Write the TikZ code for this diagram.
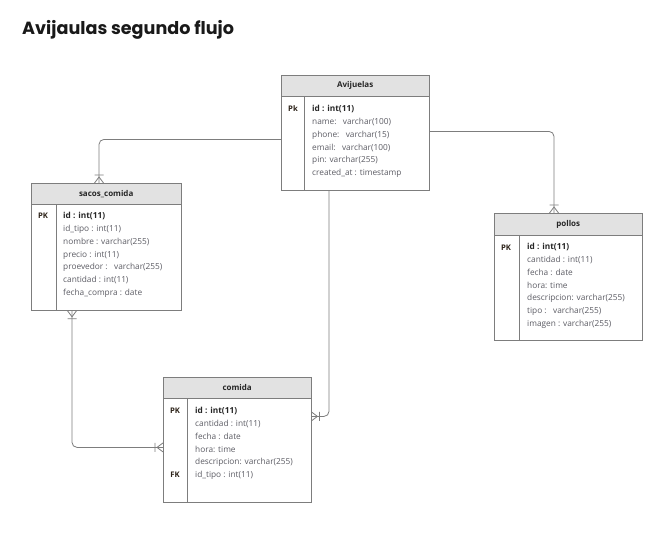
\documentclass[tikz,border=0pt]{standalone}
\usepackage{fontspec}
\setmainfont{Open Sans}
\newfontfamily\titlefont{Poppins}
\usetikzlibrary{arrows.meta,positioning,calc,decorations.markings}
\definecolor{linegray}{RGB}{125,125,125}
\definecolor{headgray}{RGB}{226,226,226}
\definecolor{fieldgray}{RGB}{92,92,100}
\definecolor{keydark}{RGB}{45,35,25}
\tikzset{
  tabhead/.style={rectangle,draw=linegray,fill=headgray,minimum height=21pt,inner sep=0pt,
    font=\fontsize{8}{9}\selectfont\bfseries,text=black!85},
  tabbody/.style={rectangle,draw=linegray,fill=white,inner sep=0pt},
  keycol/.style={anchor=base,inner sep=0pt,font=\fontsize{7.7}{9}\selectfont\bfseries,text=keydark},
  fieldcol/.style={anchor=north west,align=left,inner sep=0pt,
    font=\fontsize{8.3}{12.7}\selectfont,text=fieldgray},
  rel/.style={draw=linegray,line width=0.8pt,rounded corners=5pt},
  crowend/.style={postaction={decorate,decoration={markings,mark=at position 1 with
    {\draw[linegray,line width=0.8pt,sharp corners] (0,4.5pt) -- (-6pt,0) -- (0,-4.5pt)
      (-8pt,4.5pt) -- (-8pt,-4.5pt);}}}},
  crowstart/.style={postaction={decorate,decoration={markings,mark=at position 0 with
    {\draw[linegray,line width=0.8pt,sharp corners] (0,4.5pt) -- (6pt,0) -- (0,-4.5pt)
      (8pt,4.5pt) -- (8pt,-4.5pt);}}}}
}
\newcommand{\idrow}{\textcolor{black!85}{\textbf{id : int(11)}}}

\begin{document}
\begin{tikzpicture}[x=1pt,y=-1pt]
  \useasboundingbox[fill=white] (0,0) rectangle (660,532);
  \node[anchor=base west,inner sep=0pt,text=black!90,
        font=\titlefont\fontsize{17.6}{20}\selectfont\bfseries] (title) at (22,35) {Avijaulas segundo flujo};

  %% Avijuelas
  \node[tabhead,minimum width=148pt,anchor=north west] (avijH) at (281,75) {Avijuelas};
  \node[tabbody,minimum width=148pt,minimum height=94pt,below=0pt of avijH] (avijB) {};
  \draw[linegray] ([xshift=23pt]avijB.north west) -- ([xshift=23pt]avijB.south west);
  \node[keycol] (avijK) at ([xshift=12pt,yshift=-15pt]avijB.north west) {Pk};
  \node[fieldcol] (avijF) at ([xshift=31pt,yshift=-9pt]avijB.north west)
    {\idrow\\ name:\ \ \ varchar(100)\\ phone:\ \ \ varchar(15)\\ email:\ \ \ varchar(100)\\
     pin: varchar(255)\\ created\_at : timestamp};

  %% sacos_comida
  \node[tabhead,minimum width=150pt,anchor=north west] (sacH) at (31,183) {sacos\_comida};
  \node[tabbody,minimum width=150pt,minimum height=106pt,below=0pt of sacH] (sacB) {};
  \draw[linegray] ([xshift=25pt]sacB.north west) -- ([xshift=25pt]sacB.south west);
  \node[keycol] (sacK) at ([xshift=12pt,yshift=-14pt]sacB.north west) {PK};
  \node[fieldcol] (sacF) at ([xshift=32pt,yshift=-8pt]sacB.north west)
    {\idrow\\ id\_tipo : int(11)\\ nombre : varchar(255)\\ precio : int(11)\\
     proevedor :\ \ \ varchar(255)\\ cantidad : int(11)\\ fecha\_compra : date};

  %% pollos
  \node[tabhead,minimum width=148pt,minimum height=22pt,anchor=north west] (polH) at (494,213) {pollos};
  \node[tabbody,minimum width=148pt,minimum height=105pt,below=0pt of polH] (polB) {};
  \draw[linegray] ([xshift=25pt]polB.north west) -- ([xshift=25pt]polB.south west);
  \node[keycol] (polK) at ([xshift=12pt,yshift=-15pt]polB.north west) {PK};
  \node[fieldcol] (polF) at ([xshift=33pt,yshift=-8pt]polB.north west)
    {\idrow\\ cantidad : int(11)\\ fecha : date\\ hora: time\\ descripcion: varchar(255)\\
     tipo :\ \ \ varchar(255)\\ imagen : varchar(255)};

  %% comida
  \node[tabhead,minimum width=148pt,anchor=north west] (comH) at (163,377) {comida};
  \node[tabbody,minimum width=148pt,minimum height=104pt,below=0pt of comH] (comB) {};
  \draw[linegray] ([xshift=24pt]comB.north west) -- ([xshift=24pt]comB.south west);
  \node[keycol] (comK) at ([xshift=12pt,yshift=-15pt]comB.north west) {PK};
  \node[keycol] (comFK) at ([xshift=12pt,yshift=-79pt]comB.north west) {FK};
  \node[fieldcol] (comF) at ([xshift=32pt,yshift=-9pt]comB.north west)
    {\idrow\\ cantidad : int(11)\\ fecha : date\\ hora: time\\ descripcion: varchar(255)\\
     id\_tipo : int(11)};

  %% relations
  \draw[rel,crowend] ([yshift=-43pt]avijB.north west) -| ([xshift=68pt]sacH.north west);
  \draw[rel,crowend] ([yshift=-35pt]avijB.north east) -| ([xshift=60pt]polH.north west);
  \draw[rel,crowend] ([xshift=48pt]avijB.south west) |- ([yshift=-18pt]comB.north east);
  \draw[rel,crowstart,crowend] ([xshift=41pt]sacB.south west) |- ([yshift=-49pt]comB.north west);
\end{tikzpicture}
\end{document}
